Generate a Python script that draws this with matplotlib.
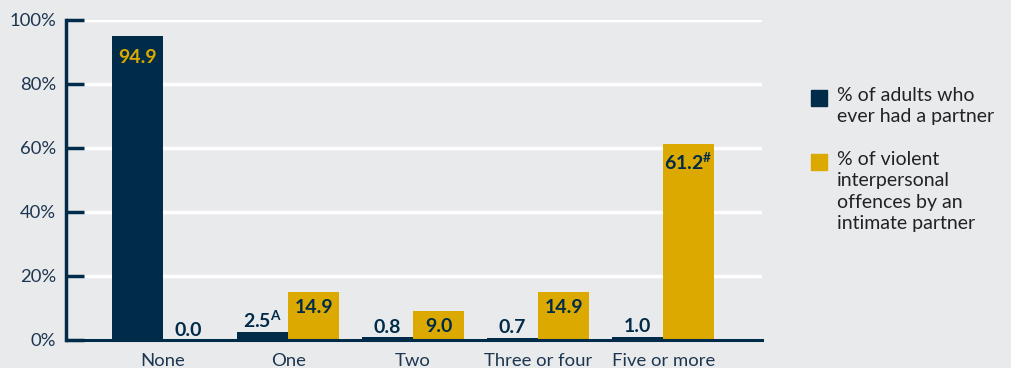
import matplotlib
matplotlib.use("Agg")
import matplotlib.pyplot as plt
from matplotlib.patches import Rectangle
import numpy as np

categories = ["None", "One", "Two", "Three or four", "Five or more"]
adults_pct = [94.9, 2.5, 0.8, 0.7, 1.0]
offences_pct = [0.0, 14.9, 9.0, 14.9, 61.2]
adults_notes = ["", "A", "", "", ""]
offences_notes = ["", "", "", "", "#"]
legend_labels = ["% of adults who\never had a partner",
                 "% of violent\ninterpersonal\noffences by an\nintimate partner"]
y_ticks = [0, 20, 40, 60, 80, 100]

NAVY = "#002b49"
GOLD = "#dca900"
BG = "#e9eaec"
TXT = "#1d3650"

plt.rcParams['font.family'] = ['Lato', 'DejaVu Sans']

fig = plt.figure(figsize=(10.12, 3.68), dpi=100, facecolor=BG)
ax = fig.add_axes([66 / 1012, 1 - 340 / 368, (762 - 66) / 1012, 320 / 368])
ax.set_facecolor(BG)

x = np.arange(len(categories))
w = 0.408
b1 = ax.bar(x - w / 2, adults_pct, w, color=NAVY, zorder=3)
b2 = ax.bar(x + w / 2, offences_pct, w, color=GOLD, zorder=3)

def label_text(v, note):
    s = f"{v:.1f}"
    if note:
        s += r"$^{\mathregular{" + note.replace("#", r"\#") + "}}$"
    return s

VFS = 14
for xi, v, note in zip(x - w / 2, adults_pct, adults_notes):
    if v > 50:
        ax.annotate(label_text(v, note), (xi, v), xytext=(0, -9), textcoords="offset points",
                    ha="center", va="top", color=GOLD, fontsize=VFS, fontweight="bold", zorder=4)
    else:
        ax.annotate(label_text(v, note), (xi, v), xytext=(0, 1), textcoords="offset points",
                    ha="center", va="bottom", color=NAVY, fontsize=VFS, fontweight="bold", zorder=4)

for xi, v, note in zip(x + w / 2, offences_pct, offences_notes):
    if v > 5:
        ax.annotate(label_text(v, note), (xi, v), xytext=(0, -5), textcoords="offset points",
                    ha="center", va="top", color=NAVY, fontsize=VFS, fontweight="bold", zorder=4)
    else:
        ax.annotate(label_text(v, note), (xi, v), xytext=(0, 1), textcoords="offset points",
                    ha="center", va="bottom", color=NAVY, fontsize=VFS, fontweight="bold", zorder=4)

ax.set_xlim(-0.776, 4.79)
ax.set_ylim(0, 100)
ax.set_yticks(y_ticks)
ax.set_yticklabels([f"{t}%" for t in y_ticks])
ax.set_xticks(x)
ax.set_xticklabels(categories)

ax.grid(axis="y", color="white", linewidth=2.5, zorder=0)
ax.set_axisbelow(True)
ax.tick_params(axis="y", direction="in", length=13, width=2.5, color=NAVY,
               labelsize=13.3, labelcolor=TXT, pad=7)
ax.tick_params(axis="x", length=0, labelsize=13.3, labelcolor=TXT, pad=9)
for s in ["top", "right"]:
    ax.spines[s].set_visible(False)
ax.spines["left"].set_color(NAVY)
ax.spines["left"].set_linewidth(2.5)
ax.spines["bottom"].set_color(NAVY)
ax.spines["bottom"].set_linewidth(2.2)
ax.spines["bottom"].set_zorder(5)

# legend
leg_y = [98 / 368, 162 / 368]
for (c, lab, yy) in zip([NAVY, GOLD], legend_labels, leg_y):
    fig.add_artist(Rectangle((811 / 1012, 1 - yy - 8 / 368), 16 / 1012, 16 / 368,
                             transform=fig.transFigure, color=c))
    fig.text(837 / 1012, 1 - yy + 11 / 368, lab, ha="left", va="top", fontsize=14,
             color="#222222", linespacing=1.32)

fig.savefig("out.png", dpi=100, facecolor=BG)
